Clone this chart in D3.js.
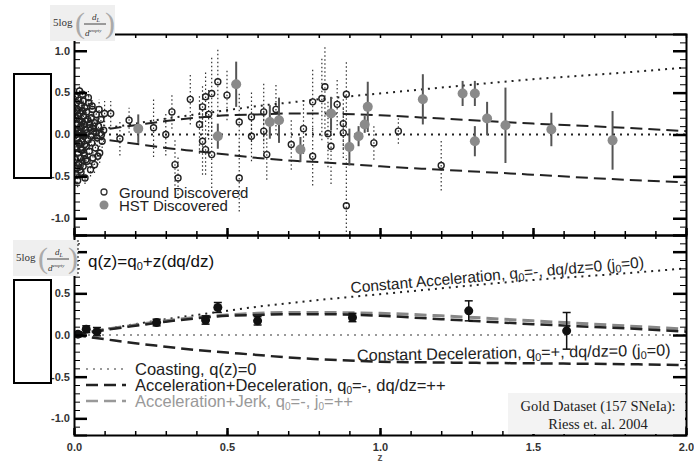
<!DOCTYPE html>
<html>
<head>
<meta charset="utf-8">
<script src="https://cdn.jsdelivr.net/npm/d3@7"></script>
<style>
  body { margin: 0; background: #fff; }
  text { font-family: "Liberation Sans", Arial, sans-serif; }
  .tick text { font-weight: bold; fill: #333; font-size: 11px; }
  .domain { stroke: #000; stroke-width: 2; }
  .serif { font-family: "Liberation Serif", "DejaVu Serif", serif; }
  .ylab { font-weight: bold; fill: #333; font-size: 11px; }
</style>
</head>
<body>
<div id="chart"></div>
<script>
// model curves, 5log(dL/dL_empty) vs z
var zCurve = [0, 0.1, 0.2, 0.3, 0.4, 0.5, 0.6, 0.7, 0.8, 1.0, 1.2, 1.5, 1.8, 2.0];
var constAccel = [0, 0.07, 0.13, 0.19, 0.24, 0.29, 0.34, 0.38, 0.42, 0.49, 0.56, 0.66, 0.74, 0.8];
var accelDecel = [0, 0.06, 0.11, 0.16, 0.2, 0.23, 0.24, 0.25, 0.25, 0.23, 0.19, 0.13, 0.08, 0.04];
var accelJerk = [0, 0.065, 0.12, 0.17, 0.21, 0.24, 0.26, 0.27, 0.27, 0.26, 0.23, 0.17, 0.11, 0.07];
var constDecel = [0, -0.06, -0.11, -0.16, -0.2, -0.24, -0.28, -0.31, -0.33, -0.38, -0.42, -0.48, -0.54, -0.57];
var constDecelLow = [0, -0.05, -0.1, -0.14, -0.18, -0.21, -0.24, -0.27, -0.29, -0.32, -0.33, -0.34, -0.35, -0.36];

// ground discovered SNe: [z, residual, error]
var groundSN = [
  [0.004,0.05,0.1],[0.005,-0.30,0.1],[0.005,0.45,0.1],[0.006,0.20,0.1],[0.007,-0.15,0.1],
  [0.007,-0.48,0.1],[0.008,0.38,0.1],[0.008,0.00,0.1],[0.009,-0.40,0.1],[0.009,0.28,0.1],
  [0.010,0.12,0.08],[0.011,-0.05,0.08],[0.012,0.30,0.08],[0.012,-0.55,0.08],[0.013,-0.22,0.08],
  [0.014,0.05,0.07],[0.014,0.22,0.07],[0.015,0.41,0.07],[0.016,-0.35,0.07],[0.016,-0.10,0.07],
  [0.017,0.18,0.07],[0.018,-0.12,0.06],[0.018,0.52,0.06],[0.019,0.02,0.06],[0.020,0.25,0.06],
  [0.020,-0.42,0.06],[0.021,-0.28,0.06],[0.022,0.10,0.06],[0.022,-0.18,0.06],[0.023,-0.45,0.06],
  [0.024,0.35,0.06],[0.024,0.08,0.06],[0.025,-0.08,0.06],[0.026,0.15,0.06],[0.026,-0.33,0.06],
  [0.027,-0.18,0.06],[0.028,0.48,0.06],[0.028,0.28,0.06],[0.029,0.00,0.06],[0.030,-0.38,0.06],
  [0.030,0.40,0.06],[0.031,0.22,0.06],[0.032,-0.02,0.06],[0.032,-0.22,0.06],[0.033,0.12,0.06],
  [0.034,-0.25,0.06],[0.035,0.32,0.06],[0.035,-0.12,0.06],[0.036,-0.52,0.07],[0.037,0.16,0.07],
  [0.038,0.06,0.07],[0.039,-0.30,0.07],[0.040,-0.14,0.07],[0.041,0.27,0.07],[0.042,0.02,0.07],
  [0.043,-0.32,0.07],[0.045,0.18,0.07],[0.046,-0.06,0.07],[0.047,0.44,0.08],[0.048,0.38,0.08],
  [0.050,-0.20,0.08],[0.051,0.12,0.08],[0.052,0.08,0.08],[0.054,-0.42,0.08],[0.055,-0.02,0.08],
  [0.056,0.20,0.08],[0.058,-0.10,0.08],[0.059,0.34,0.09],[0.060,0.30,0.09],[0.062,-0.28,0.09],
  [0.064,0.10,0.09],[0.065,0.04,0.09],[0.067,-0.36,0.1],[0.068,0.14,0.1],[0.070,-0.16,0.1],
  [0.072,0.02,0.1],[0.073,0.24,0.1],[0.076,-0.04,0.1],[0.078,-0.26,0.1],[0.080,0.10,0.12],
  [0.082,0.30,0.12],[0.084,-0.22,0.12],[0.088,0.18,0.12],[0.090,0.00,0.12],[0.092,-0.08,0.13],
  [0.097,0.05,0.14],
  [0.10,0.25,0.15],[0.12,0.25,0.15],[0.15,-0.05,0.2],[0.18,0.17,0.15],[0.26,0.08,0.35],
  [0.30,0.0,0.25],[0.32,0.27,0.2],[0.33,-0.36,0.3],[0.34,-0.52,0.25],[0.38,0.42,0.3],
  [0.41,0.12,0.35],[0.42,0.33,0.25],[0.42,-0.08,0.4],[0.43,0.45,0.3],[0.43,-0.18,0.3],
  [0.44,0.24,0.3],[0.45,0.49,0.45],[0.45,-0.24,0.4],[0.47,0.63,0.4],[0.50,0.47,0.3],
  [0.54,0.15,0.35],[0.54,-0.52,0.4],[0.58,0.21,0.3],[0.58,-0.02,0.3],[0.62,0.27,0.35],
  [0.62,0.04,0.3],[0.63,-0.24,0.3],[0.66,0.30,0.3],[0.71,-0.12,0.3],[0.75,0.07,0.3],
  [0.78,-0.26,0.35],[0.78,0.39,0.4],[0.81,0.43,0.5],[0.82,0.57,0.5],[0.83,0.01,0.4],
  [0.84,-0.14,0.45],[0.86,0.36,0.3],[0.88,0.13,0.3],[0.88,0.02,0.3],[0.89,0.48,0.4],
  [0.89,-0.85,0.6],[0.98,-0.10,0.2],[1.06,0.04,0.15],[1.20,-0.37,0.3]
];

// HST discovered SNe: [z, residual, error]
var hstSN = [
  [0.21,0.07,0.17],[0.47,-0.02,0.15],[0.53,0.60,0.27],[0.64,0.15,0.2],[0.67,0.17,0.27],
  [0.74,-0.18,0.15],[0.84,0.25,0.2],[0.90,-0.15,0.22],[0.93,-0.02,0.12],[0.95,0.12,0.1],
  [0.96,0.33,0.3],[1.14,0.42,0.3],[1.27,0.49,0.15],[1.31,0.49,0.15],[1.31,-0.08,0.18],
  [1.35,0.19,0.2],[1.41,0.11,0.45],[1.56,0.06,0.2],[1.76,-0.07,0.35]
];

// binned gold sample: [z, residual, error]
var binned = [
  [0.013,0.01,0.03],[0.04,0.07,0.04],[0.075,0.04,0.05],[0.27,0.15,0.04],[0.43,0.18,0.05],
  [0.47,0.33,0.06],[0.60,0.17,0.05],[0.91,0.21,0.05],[1.29,0.29,0.12],[1.61,0.05,0.22]
];

var xTicks = [0, 0.5, 1, 1.5, 2];
var xTickLabels = ["0.0", "0.5", "1.0", "1.5", "2.0"];
var yTicks = [-1, -0.5, 0, 0.5, 1];
var yTickLabelsTop = ["-1.0", "-0.5", "0.0", "0.5", "1.0"];
var yTickLabelsBot = ["-1.0", "-0.5", "0.0", "0.5", ""];

var svgWidth = 694, svgHeight = 464;

var svg = d3.select("#chart").append("svg")
  .attr("width", svgWidth)
  .attr("height", svgHeight);

var x = d3.scaleLinear().domain([0, 2]).range([74, 686]);
var yTop = d3.scaleLinear().domain([-1.2, 1.2]).range([235, 34]);
var yBot = d3.scaleLinear().domain([-1.2, 1.2]).range([435, 235]);

var minorX = d3.range(0, 2.001, 0.1);
var minorY = d3.range(-1.2, 1.201, 0.1);

function drawFrame(y, labels) {
  var g = svg.append("g");
  // minor ticks
  g.append("g").attr("transform", "translate(74,0)")
    .call(d3.axisLeft(y).tickValues(minorY).tickSize(-6).tickFormat(""))
    .call(s => s.select(".domain").remove());
  g.append("g").attr("transform", "translate(686,0)")
    .call(d3.axisRight(y).tickValues(minorY).tickSize(-6).tickFormat(""))
    .call(s => s.select(".domain").remove());
  // major ticks
  g.append("g").attr("transform", "translate(74,0)")
    .call(d3.axisLeft(y).tickValues(yTicks).tickSize(-13).tickFormat(""))
    .call(s => s.selectAll(".tick line").attr("stroke-width", 2.5));
  g.append("g").attr("transform", "translate(686,0)")
    .call(d3.axisRight(y).tickValues(yTicks).tickSize(-13).tickFormat(""))
    .call(s => s.selectAll(".tick line").attr("stroke-width", 2.5));
  // tick labels just left of the axis
  g.selectAll(".ylab").data(yTicks).enter().append("text")
    .attr("class", "ylab")
    .attr("x", 70).attr("y", d => y(d)).attr("dy", "0.35em")
    .attr("text-anchor", "end")
    .text((d, i) => labels[i]);
  // horizontal axes
  var r = y.range();
  g.append("g").attr("transform", "translate(0," + r[0] + ")")
    .call(d3.axisBottom(x).tickValues(minorX).tickSizeInner(-4).tickSizeOuter(0).tickFormat(""))
    .call(s => s.selectAll(".tick line").attr("stroke-width", 1.5));
  g.append("g").attr("transform", "translate(0," + r[0] + ")")
    .call(d3.axisBottom(x).tickValues(xTicks).tickSizeInner(-7).tickSizeOuter(0).tickFormat(""))
    .call(s => s.selectAll(".tick line").attr("stroke-width", 2.5))
    .call(s => s.select(".domain").remove());
  g.append("g").attr("transform", "translate(0," + r[1] + ")")
    .call(d3.axisTop(x).tickValues(minorX).tickSizeInner(-4).tickSizeOuter(0).tickFormat(""))
    .call(s => s.selectAll(".tick line").attr("stroke-width", 1.5));
  return g;
}

svg.append("clipPath").attr("id", "clipTop")
  .append("rect").attr("x", 74).attr("y", 34).attr("width", 612).attr("height", 201);
svg.append("clipPath").attr("id", "clipBot")
  .append("rect").attr("x", 74).attr("y", 235).attr("width", 612).attr("height", 200);

function curve(y, vals) {
  return d3.line()
    .x((d, i) => x(zCurve[i]))
    .y(d => y(d))
    .curve(d3.curveMonotoneX)(vals);
}

// ---------- top panel ----------
var topPanel = svg.append("g").attr("clip-path", "url(#clipTop)");

// ground discovered
topPanel.selectAll(".gerr").data(groundSN).enter().append("line")
  .attr("x1", d => x(d[0])).attr("x2", d => x(d[0]))
  .attr("y1", d => yTop(d[1] - d[2])).attr("y2", d => yTop(d[1] + d[2]))
  .attr("stroke", "#333").attr("stroke-width", 1.2).attr("stroke-dasharray", "1.5,2.5");

// model curves
topPanel.append("path").attr("d", curve(yTop, zCurve.map(() => 0)))
  .attr("fill", "none").attr("stroke", "#222").attr("stroke-width", 1.8).attr("stroke-dasharray", "2,5");
topPanel.append("path").attr("d", curve(yTop, constAccel))
  .attr("fill", "none").attr("stroke", "#222").attr("stroke-width", 2).attr("stroke-dasharray", "2,5");
topPanel.append("path").attr("d", curve(yTop, accelDecel))
  .attr("fill", "none").attr("stroke", "#222").attr("stroke-width", 2).attr("stroke-dasharray", "12,6");
topPanel.append("path").attr("d", curve(yTop, constDecel))
  .attr("fill", "none").attr("stroke", "#222").attr("stroke-width", 2).attr("stroke-dasharray", "12,6");

topPanel.selectAll(".gpt").data(groundSN).enter().append("circle")
  .attr("cx", d => x(d[0])).attr("cy", d => yTop(d[1])).attr("r", 3)
  .attr("fill", "none").attr("stroke", "#222").attr("stroke-width", 1.4);

// HST discovered
topPanel.selectAll(".herr").data(hstSN).enter().append("line")
  .attr("x1", d => x(d[0])).attr("x2", d => x(d[0]))
  .attr("y1", d => yTop(d[1] - d[2])).attr("y2", d => yTop(d[1] + d[2]))
  .attr("stroke", "#555").attr("stroke-width", 2);
topPanel.selectAll(".hpt").data(hstSN).enter().append("circle")
  .attr("cx", d => x(d[0])).attr("cy", d => yTop(d[1])).attr("r", 5)
  .attr("fill", "#8a8a8a");

drawFrame(yTop, yTickLabelsTop);

// legend top
svg.append("circle").attr("cx", 104).attr("cy", 192).attr("r", 3).attr("fill", "none").attr("stroke", "#333").attr("stroke-width", 1.3);
svg.append("circle").attr("cx", 104).attr("cy", 205).attr("r", 4.5).attr("fill", "#8a8a8a");
svg.append("text").attr("x", 119).attr("y", 198).attr("font-size", 15).attr("fill", "#222").text("Ground Discovered");
svg.append("text").attr("x", 119).attr("y", 211).attr("font-size", 15).attr("fill", "#222").text("HST Discovered");

// ---------- bottom panel ----------
var botPanel = svg.append("g").attr("clip-path", "url(#clipBot)");

botPanel.append("path").attr("d", curve(yBot, zCurve.map(() => 0)))
  .attr("fill", "none").attr("stroke", "#999").attr("stroke-width", 1.8).attr("stroke-dasharray", "2,5");
botPanel.append("path").attr("d", curve(yBot, constAccel))
  .attr("fill", "none").attr("stroke", "#222").attr("stroke-width", 2).attr("stroke-dasharray", "2,5");
botPanel.append("path").attr("d", curve(yBot, accelJerk))
  .attr("fill", "none").attr("stroke", "#888").attr("stroke-width", 3).attr("stroke-dasharray", "12,6");
botPanel.append("path").attr("d", curve(yBot, accelDecel))
  .attr("fill", "none").attr("stroke", "#222").attr("stroke-width", 2.5).attr("stroke-dasharray", "12,6");
botPanel.append("path").attr("d", curve(yBot, constDecelLow))
  .attr("fill", "none").attr("stroke", "#222").attr("stroke-width", 2.5).attr("stroke-dasharray", "12,6");

// binned points with capped error bars
var bins = botPanel.selectAll(".bin").data(binned).enter().append("g");
bins.append("line")
  .attr("x1", d => x(d[0])).attr("x2", d => x(d[0]))
  .attr("y1", d => yBot(d[1] - d[2])).attr("y2", d => yBot(d[1] + d[2]))
  .attr("stroke", "#111").attr("stroke-width", 1.5);
bins.append("line")
  .attr("x1", d => x(d[0]) - 4).attr("x2", d => x(d[0]) + 4)
  .attr("y1", d => yBot(d[1] - d[2])).attr("y2", d => yBot(d[1] - d[2]))
  .attr("stroke", "#111").attr("stroke-width", 1.5);
bins.append("line")
  .attr("x1", d => x(d[0]) - 4).attr("x2", d => x(d[0]) + 4)
  .attr("y1", d => yBot(d[1] + d[2])).attr("y2", d => yBot(d[1] + d[2]))
  .attr("stroke", "#111").attr("stroke-width", 1.5);
bins.append("circle")
  .attr("cx", d => x(d[0])).attr("cy", d => yBot(d[1])).attr("r", 4.5)
  .attr("fill", "#111");

drawFrame(yBot, yTickLabelsBot);
// x tick labels under bottom panel
svg.append("g").attr("transform", "translate(0,435)")
  .call(d3.axisBottom(x).tickValues(xTicks).tickSize(0).tickPadding(8)
    .tickFormat((d, i) => xTickLabels[i]))
  .call(s => s.select(".domain").remove())
  .call(s => s.selectAll(".tick text").attr("font-size", 10).attr("fill", "#555"));
svg.append("text").attr("x", x(1)).attr("y", 461).attr("text-anchor", "middle")
  .attr("font-size", 10).attr("font-weight", "bold").attr("fill", "#555").text("z");

// text with subscript zeros
function subText(sel, parts, subSize) {
  parts.forEach(p => {
    var t = sel.append("tspan").text(p[0]);
    if (p[1]) t.attr("font-size", subSize || 11).attr("dy", 3);
    if (p[2]) t.attr("dy", -3);
  });
}
var accText = svg.append("text")
  .attr("transform", "translate(351,293) rotate(-5)")
  .attr("font-size", 15.5).attr("fill", "#222");
subText(accText, [["Constant Acceleration, q"], ["0", true], ["=-, dq/dz=0 (j", false, true], ["0", true], ["=0)", false, true]]);

var decText = svg.append("text")
  .attr("transform", "translate(357,361) rotate(-1)")
  .attr("font-size", 16.2).attr("fill", "#222");
subText(decText, [["Constant Deceleration, q"], ["0", true], ["=+, dq/dz=0 (j", false, true], ["0", true], ["=0)", false, true]]);

// bottom legend
var legendRows = [
  { y: 375, stroke: "#999", dash: "2,5", w: 1.8, color: "#222", parts: [["Coasting, q(z)=0"]] },
  { y: 391, stroke: "#222", dash: "12,6", w: 2.5, color: "#222", parts: [["Acceleration+Deceleration, q"], ["0", true], ["=-, dq/dz=++", false, true]] },
  { y: 407, stroke: "#999", dash: "12,6", w: 2.5, color: "#999", parts: [["Acceleration+Jerk, q"], ["0", true], ["=-, j", false, true], ["0", true], ["=++", false, true]] }
];
legendRows.forEach(r => {
  svg.append("line").attr("x1", 86).attr("x2", 126).attr("y1", r.y - 6).attr("y2", r.y - 6)
    .attr("stroke", r.stroke).attr("stroke-width", r.w).attr("stroke-dasharray", r.dash);
  var t = svg.append("text").attr("x", 135).attr("y", r.y).attr("font-size", 16.5).attr("fill", r.color);
  subText(t, r.parts, 10);
});

// gold dataset box
svg.append("rect").attr("x", 508).attr("y", 393).attr("width", 177).attr("height", 41).attr("fill", "#f3f3f3");
svg.append("text").attr("class", "serif").attr("x", 598).attr("y", 411).attr("text-anchor", "middle")
  .attr("font-size", 14.5).attr("fill", "#222")
  .text("Gold Dataset (157 SNeIa):");
svg.append("text").attr("class", "serif").attr("x", 598).attr("y", 429).attr("text-anchor", "middle")
  .attr("font-size", 14.5).attr("fill", "#222")
  .text("Riess et. al. 2004");

// y-label "5log(dL/dL^empty)"
function yLabel(x0, y0) {
  var g = svg.append("g").attr("transform", "translate(" + x0 + "," + y0 + ")");
  g.append("rect").attr("x", 0).attr("y", 0).attr("width", 65).attr("height", 36).attr("fill", "#efefef");
  g.append("text").attr("class", "serif").attr("x", 3).attr("y", 21)
    .attr("font-size", 11).attr("fill", "#333").text("5log");
  g.append("text").attr("class", "serif").attr("x", 25).attr("y", 28)
    .attr("font-size", 30).attr("fill", "#aaa").text("(");
  g.append("text").attr("class", "serif").attr("x", 55).attr("y", 28)
    .attr("font-size", 30).attr("fill", "#aaa").text(")");
  g.append("line").attr("x1", 34).attr("x2", 56).attr("y1", 19).attr("y2", 19).attr("stroke", "#444");
  var num = g.append("text").attr("class", "serif").attr("x", 42).attr("y", 15)
    .attr("font-style", "italic").attr("font-size", 9).attr("fill", "#333").text("d");
  num.append("tspan").attr("font-size", 6).attr("dy", 2).text("L");
  var den = g.append("text").attr("class", "serif").attr("x", 35).attr("y", 31)
    .attr("font-style", "italic").attr("font-size", 9).attr("fill", "#333").text("d");
  den.append("tspan").attr("font-size", 5).attr("dy", -4).text("empty");
  return g;
}
yLabel(50, 5);
yLabel(13, 240);
svg.append("line").attr("x1", 78).attr("x2", 78).attr("y1", 240).attr("y2", 276)
  .attr("stroke", "#333").attr("stroke-width", 1.2).attr("stroke-dasharray", "2,2");
svg.append("text").attr("x", 88).attr("y", 267).attr("font-size", 17).attr("fill", "#111")
  .call(t => subText(t, [["q(z)=q"], ["0", true], ["+z(dq/dz)", false, true]]));

// white boxes over the left margin
svg.append("rect").attr("x", 14).attr("y", 74).attr("width", 37).attr("height", 104)
  .attr("fill", "#fff").attr("stroke", "#000").attr("stroke-width", 2);
svg.append("rect").attr("x", 14).attr("y", 280).attr("width", 37).attr("height", 103)
  .attr("fill", "#fff").attr("stroke", "#000").attr("stroke-width", 2);
</script>
</body>
</html>
